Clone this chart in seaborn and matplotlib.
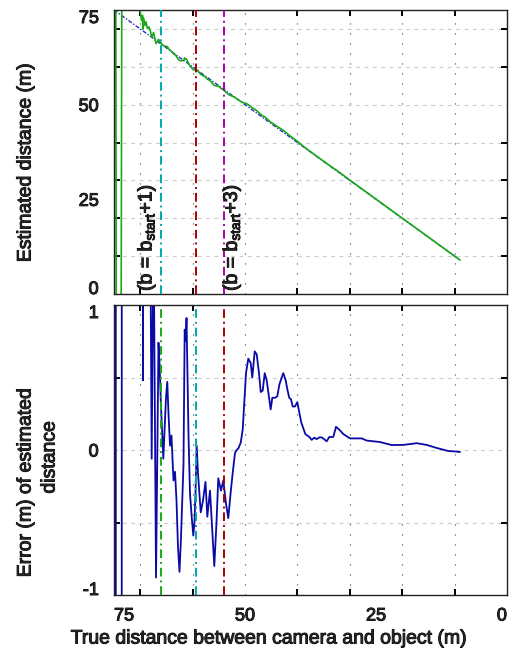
import matplotlib
matplotlib.use("Agg")
import matplotlib.pyplot as plt
import matplotlib.patheffects as pe
import numpy as np
import pandas as pd
import seaborn as sns

# ---------------- data ----------------
true_dist = [75.00, 74.66, 74.58, 73.63, 73.51, 71.95, 70.42, 70.04, 69.75, 69.56,
             69.47, 69.35, 69.08, 68.89, 68.61, 68.32, 68.03, 67.81, 67.46, 66.98,
             66.51, 66.32, 66.03, 65.59, 65.27, 65.08, 64.83, 64.60, 64.31, 64.03,
             63.84, 63.65, 63.36, 63.07, 62.79, 62.50, 62.21, 61.93, 61.74, 61.51,
             61.32, 61.16, 61.01, 60.78, 60.50, 60.17, 59.87, 59.64, 59.45, 59.22,
             58.97, 58.45, 58.02, 57.54, 57.19, 56.68, 55.86, 55.44, 55.10, 54.58,
             54.14, 53.63, 53.19, 52.73, 52.35, 51.91, 51.58, 51.28, 50.82, 50.44,
             50.19, 49.81, 49.37, 48.91, 48.61, 48.15, 47.77, 47.33, 47.00, 46.62,
             46.24, 45.86, 45.48, 45.10, 44.79, 44.27, 43.84, 43.45, 43.00, 42.69,
             42.23, 41.93, 41.55, 41.22, 40.90, 40.46, 40.02, 39.64, 39.26, 38.87,
             38.49, 38.11, 37.73, 37.27, 36.77, 36.32, 35.82, 35.36, 34.92, 34.41,
             33.91, 33.15, 32.63, 32.00, 31.24, 29.96, 28.68, 27.73, 26.77, 24.24,
             22.00, 19.79, 17.23, 15.32, 13.42, 11.20, 9.92, 8.97]

error = [6.0, 6.0, -76.0, -76.0, 6.0, 8.0, 7.0, 5.0, 2.5, 4.0,
         0.48, 3.5, 1.8, 3.0, 1.5, 2.2, 1.3, -0.06, 1.6, -0.88,
         0.74, 0.60, 0.30, -0.06, 0.20, 0.36, 0.47, 0.25, 0.03, 0.10,
         -0.05, -0.21, -0.15, -0.35, -0.67, -0.84, -0.60, -0.30, -0.10, 0.83,
         0.75, 0.91, 0.59, 0.10, -0.30, -0.46, -0.59, -0.50, -0.30, 0.03,
         -0.16, -0.43, -0.35, -0.22, -0.46, -0.28, -0.80, -0.50, -0.195, -0.28,
         -0.21, -0.37, -0.47, -0.29, -0.16, -0.02, 0.00, 0.01, 0.05, 0.14,
         0.30, 0.53, 0.63, 0.60, 0.50, 0.68, 0.66, 0.53, 0.40, 0.41,
         0.53, 0.48, 0.38, 0.28, 0.36, 0.36, 0.37, 0.45, 0.50, 0.53,
         0.48, 0.42, 0.36, 0.35, 0.30, 0.30, 0.33, 0.26, 0.19, 0.15,
         0.11, 0.10, 0.09, 0.07, 0.085, 0.075, 0.087, 0.087, 0.075, 0.06,
         0.09, 0.09, 0.16, 0.14, 0.11, 0.08, 0.08, 0.08, 0.065, 0.055,
         0.034, 0.035, 0.047, 0.035, 0.014, -0.007, -0.01, -0.014]

ref_true = [75.0, 8.97]
ref_est = [75.0, 8.97]

marker_pos = [66.0, 59.4, 54.0]
marker_texts = [r"(b = b$_{\mathrm{start}}$+1)", r"(b = b$_{\mathrm{start}}$+3)"]
marker_text_pos = [68.7, 52.4]

x_tick_vals = [75, 50, 25, 0]
x_tick_labels = ["75", "50", "25", "0"]
x_grid = [70, 60, 50, 40, 30, 20, 10, 0]
top_y_tick_vals = [0, 25, 50, 75]
top_y_tick_labels = ["0", "25", "50", "75"]
top_y_grid = [10, 20, 30, 40, 50, 60, 70]
bot_y_tick_vals = [-1, 0, 1]
bot_y_tick_labels = ["-1", "0", "1"]
bot_y_grid = [-0.5, 0, 0.5]

assert len(true_dist) == len(error)

# ---------------- style ----------------
sns.set_style("white")
plt.rcParams["font.family"] = ["Liberation Sans", "DejaVu Sans"]
plt.rcParams["mathtext.fontset"] = "custom"
plt.rcParams["mathtext.rm"] = "Liberation Sans"
plt.rcParams["mathtext.it"] = "Liberation Sans"

GREEN = "#18aa18"
BLUE = "#0a0aa8"
REFBLUE = "#2a2ac8"
CYAN = "#00aaaa"
RED = "#aa0000"
MAGENTA = "#aa00aa"
DASHDOT = (0, (4.5, 2.0, 1.0, 2.0))
HEAVY = [pe.withStroke(linewidth=0.7, foreground="black")]

df = pd.DataFrame({"true": true_dist, "err": error})
df["est"] = df["true"] + df["err"]

fig = plt.figure(figsize=(5.2, 6.54), dpi=100)
ax1 = fig.add_axes([114 / 520, 1 - 294 / 654, 393 / 520, 284 / 654])
ax2 = fig.add_axes([114 / 520, 1 - 595 / 654, 393 / 520, 290 / 654])


def style_axis(ax, ytick_vals, ytick_labels, ygrid, show_x):
    ax.set_xlim(75, 0)
    ax.set_xticks(x_tick_vals)
    ax.set_xticks(x_grid, minor=True)
    ax.set_yticks(ytick_vals)
    ax.set_yticks(ygrid, minor=True)
    ax.set_yticklabels(ytick_labels)
    if show_x:
        ax.set_xticklabels(x_tick_labels)
    else:
        ax.set_xticklabels([])
    ax.tick_params(which="major", length=0, labelsize=13, labelbottom=show_x)
    ax.tick_params(axis="x", which="major", pad=9)
    ax.tick_params(axis="y", which="major", pad=11)
    ax.tick_params(which="minor", direction="in", length=4, width=1.4,
                   color="black", top=True, bottom=True, left=True, right=True)
    for g in x_grid:
        ax.axvline(g, color="#444444", lw=0.8, linestyle=(0, (1.0, 8.0)), zorder=0.5)
    for g in ygrid:
        ax.axhline(g, color="#cccccc", lw=0.8, linestyle=(0, (3.5, 4)), zorder=0.5)
    for s in ax.spines.values():
        s.set_color("#222222")
        s.set_linewidth(1.0)
    ax.set_xlabel("")
    ax.set_ylabel("")
    if show_x:
        labs = ax.get_xticklabels()
        labs[0].set_ha("left")
        labs[-1].set_ha("right")
        for lab in labs:
            lab.set_path_effects(HEAVY)
    ylabs = ax.get_yticklabels()
    ylabs[0].set_va("baseline")
    ylabs[-1].set_va("top")
    for lab in ylabs:
        lab.set_path_effects(HEAVY)


# ---------------- top panel ----------------
sns.lineplot(x=ref_true, y=ref_est, ax=ax1, color=REFBLUE, lw=1.0,
             linestyle=(0, (3, 1.2, 1, 1.2)), estimator=None, sort=False)
sns.lineplot(data=df, x="true", y="est", ax=ax1, color=GREEN, lw=1.2,
             estimator=None, sort=False)
for pos, col in zip(marker_pos, [CYAN, RED, MAGENTA]):
    ax1.axvline(pos, color=col, lw=1.4, linestyle=DASHDOT, zorder=3)
ax1.set_ylim(0, 75)
style_axis(ax1, top_y_tick_vals, top_y_tick_labels, top_y_grid, False)
for t, xp in zip(marker_texts, marker_text_pos):
    ax1.text(xp, 0.8, t, rotation=90, ha="center", va="bottom", fontsize=14,
             path_effects=HEAVY)

# ---------------- bottom panel ----------------
sns.lineplot(data=df, x="true", y="err", ax=ax2, color=BLUE, lw=1.3,
             estimator=None, sort=False)
for pos, col in zip(marker_pos, [GREEN, CYAN, RED]):
    ax2.axvline(pos, color=col, lw=1.4, linestyle=DASHDOT, zorder=3)
ax2.set_ylim(-1, 1)
style_axis(ax2, bot_y_tick_vals, bot_y_tick_labels, bot_y_grid, True)

# ---------------- labels ----------------
lab_kw = dict(ha="center", va="center", fontsize=14, path_effects=HEAVY)
fig.text(26 / 520, 1 - 162 / 654, "Estimated distance (m)", rotation=90, **lab_kw)
fig.text(26 / 520, 1 - 482 / 654, "Error (m) of estimated", rotation=90, **lab_kw)
fig.text(50 / 520, 1 - 457 / 654, "distance", rotation=90, **lab_kw)
fig.text(270 / 520, 1 - 639 / 654, "True distance between camera and object (m)", **lab_kw)

fig.savefig("out.png", dpi=100)
